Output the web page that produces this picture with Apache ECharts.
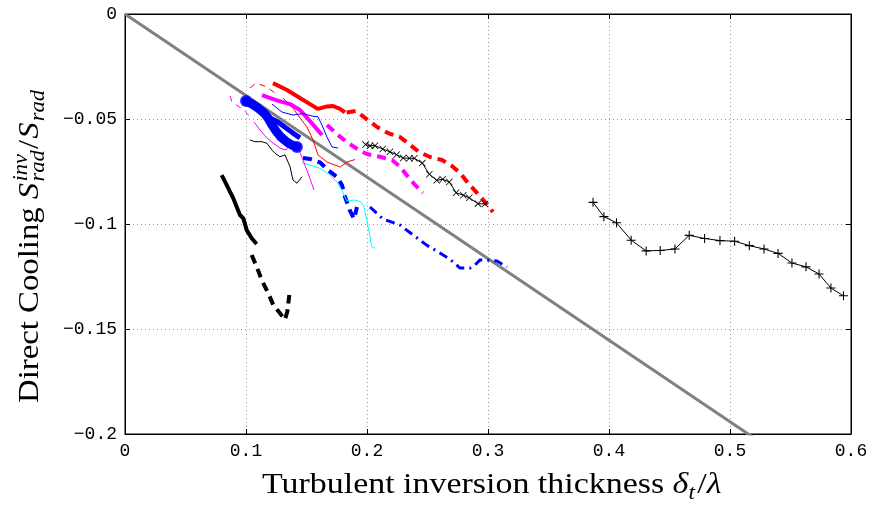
<!DOCTYPE html>
<html>
<head>
<meta charset="utf-8">
<script src="https://cdn.jsdelivr.net/npm/echarts@6/dist/echarts.min.js"></script>
<style>
  html, body { margin: 0; padding: 0; background: #fff; }
  #chart { width: 871px; height: 506px; }
</style>
</head>
<body>
<div id="chart"></div>
<script>
// axis ticks
var xTicks = [0, 0.1, 0.2, 0.3, 0.4, 0.5, 0.6];
var yTicks = [0, -0.05, -0.1, -0.15, -0.2];

// reference line (gray)
var refLine = [[0, 0], [0.6, -0.2330]];

// black with + markers
var blackPlus = [[0.3868,-0.0897],[0.3958,-0.0965],[0.4062,-0.0994],[0.4183,-0.1077],[0.4307,-0.1128],
  [0.4423,-0.1126],[0.4545,-0.1119],[0.4663,-0.1054],[0.4790,-0.1069],[0.4917,-0.1079],[0.5038,-0.1082],
  [0.5160,-0.1103],[0.5281,-0.1119],[0.5397,-0.1140],[0.5512,-0.1186],[0.5628,-0.1204],[0.5736,-0.1238],
  [0.5834,-0.1305],[0.5938,-0.1342]];

// black with x markers
var blackCross = [[0.1989,-0.0622],[0.2025,-0.0627],[0.2066,-0.0627],[0.2130,-0.0643],[0.2190,-0.0656],
  [0.2245,-0.0670],[0.2300,-0.0686],[0.2350,-0.0687],[0.2391,-0.0687],[0.2457,-0.0710],[0.2515,-0.0763],
  [0.2576,-0.0792],[0.2626,-0.0787],[0.2680,-0.0800],[0.2736,-0.0851],[0.2796,-0.0863],[0.2845,-0.0875],
  [0.2917,-0.0903],[0.2975,-0.0905]];

var redThick = [[0.1223,-0.0329],[0.1339,-0.0362],[0.1446,-0.0400],[0.1529,-0.0429],[0.1595,-0.0452],
  [0.1669,-0.0440],[0.1719,-0.0438],[0.1777,-0.0452],[0.1818,-0.0469]];
var redDash = [[0.1832,-0.0469],[0.1909,-0.0462],[0.2000,-0.0502],[0.2083,-0.0538],[0.2174,-0.0567],
  [0.2273,-0.0586],[0.2347,-0.0619],[0.2430,-0.0657],[0.2521,-0.0681],[0.2620,-0.0695],[0.2702,-0.0724],
  [0.2769,-0.0757],[0.2835,-0.0805],[0.2909,-0.0852],[0.2975,-0.0895],[0.3041,-0.0943]];

var magentaThick = [[0.1132,-0.0386],[0.1248,-0.0410],[0.1364,-0.0429],[0.1446,-0.0457],[0.1529,-0.0510],
  [0.1628,-0.0576]];
var magentaDash = [[0.1669,-0.0529],[0.1760,-0.0576],[0.1843,-0.0614],[0.1942,-0.0651],[0.2000,-0.0667],
  [0.2107,-0.0680],[0.2207,-0.0695],[0.2273,-0.0727],[0.2339,-0.0775],[0.2397,-0.0814],[0.2463,-0.0852]];

var blueDash = [[0.1471,-0.0686],[0.1529,-0.0690],[0.1612,-0.0707],[0.1678,-0.0743],[0.1752,-0.0776],
  [0.1793,-0.0814],[0.1818,-0.0871],[0.1860,-0.0938],[0.1893,-0.0976],[0.1917,-0.0919]];
var blueDashDot = [[0.2025,-0.0919],[0.2132,-0.0976],[0.2273,-0.1005],[0.2380,-0.1052],[0.2496,-0.1102],
  [0.2587,-0.1132],[0.2686,-0.1168],[0.2769,-0.1210],[0.2851,-0.1210],[0.2893,-0.1195],[0.2934,-0.1171],
  [0.2992,-0.1171],[0.3074,-0.1176],[0.3157,-0.1205]];

var cyanThin = [[0.1460,-0.0708],[0.1529,-0.0719],[0.1612,-0.0735],[0.1694,-0.0767],[0.1750,-0.0799],
  [0.1791,-0.0838],[0.1832,-0.0889],[0.1901,-0.0886],[0.1948,-0.0894],[0.1975,-0.0918],[0.1998,-0.0981],
  [0.2019,-0.1044],[0.2039,-0.1108],[0.2066,-0.1116]];

var blackThick = [[0.0799,-0.0767],[0.0840,-0.0814],[0.0895,-0.0878],[0.0950,-0.0957],[0.0978,-0.0973],
  [0.1006,-0.1029],[0.1047,-0.1068],[0.1088,-0.1095]];
var blackDash = [[0.1047,-0.1148],[0.1088,-0.1203],[0.1130,-0.1267],[0.1184,-0.1330],[0.1226,-0.1386],
  [0.1281,-0.1425],[0.1322,-0.1456],[0.1341,-0.1418],[0.1358,-0.1338]];

var blueFat = [[0.1000,-0.0414],[0.1050,-0.0429],[0.1099,-0.0448],[0.1149,-0.0471],[0.1182,-0.0495],
  [0.1215,-0.0529],[0.1248,-0.0557],[0.1289,-0.0586],[0.1339,-0.0610],[0.1380,-0.0624],[0.1421,-0.0633]];
var blueBranch = [[0.1198,-0.0495],[0.1264,-0.0514],[0.1331,-0.0543],[0.1388,-0.0567],[0.1446,-0.0590]];
var blueThin = [[0.1215,-0.0429],[0.1298,-0.0467],[0.1388,-0.0481],[0.1471,-0.0474],[0.1545,-0.0486],
  [0.1595,-0.0490],[0.1628,-0.0529],[0.1669,-0.0586],[0.1711,-0.0633],[0.1760,-0.0638]];

var redThinDash = [[0.1033,-0.0352],[0.1074,-0.0333],[0.1132,-0.0338],[0.1182,-0.0352],[0.1240,-0.0376]];
var redThin = [[0.1306,-0.0400],[0.1388,-0.0448],[0.1446,-0.0495],[0.1504,-0.0538],[0.1554,-0.0600],
  [0.1595,-0.0671],[0.1669,-0.0705],[0.1736,-0.0719],[0.1777,-0.0729],[0.1835,-0.0705],[0.1901,-0.0693]];

var magentaThinDash = [[0.0868,-0.0390],[0.0884,-0.0419],[0.0934,-0.0438],[0.0983,-0.0457],[0.1033,-0.0490]];
var magentaThin = [[0.1066,-0.0514],[0.1116,-0.0552],[0.1165,-0.0586],[0.1223,-0.0614],[0.1281,-0.0638],
  [0.1331,-0.0648],[0.1364,-0.0619],[0.1397,-0.0614],[0.1430,-0.0638],[0.1471,-0.0695],[0.1512,-0.0757],
  [0.1562,-0.0838]];

var blackThin = [[0.1033,-0.0600],[0.1074,-0.0608],[0.1132,-0.0608],[0.1174,-0.0616],[0.1215,-0.0648],
  [0.1240,-0.0663],[0.1281,-0.0680],[0.1322,-0.0671],[0.1364,-0.0727],[0.1388,-0.0790],[0.1421,-0.0806],
  [0.1463,-0.0775]];

var plusSym = 'path://M4.4,0H5.6V10H4.4Z M0,4.4H10V5.6H0Z';
var crossSym = 'path://M0,0.8L0.8,0L10,9.2L9.2,10Z M9.2,0L10,0.8L0.8,10L0,9.2Z';

var monoFont = 'Liberation Mono';
var serif = 'Liberation Serif';

function tickFmt(v) {
  var s = String(parseFloat(v.toFixed(3)));
  return s.replace('-', '\u2212');
}

function line(data, color, width, type, extra) {
  var s = {
    type: 'line', data: data, symbol: 'none', smooth: false,
    lineStyle: { color: color, width: width, type: type || 'solid', cap: 'butt' },
    itemStyle: { color: color },
    z: 3
  };
  if (extra) {
    for (var k in extra) s[k] = extra[k];
  }
  return s;
}

// measure pieces to lay out math-like titles
var ctx = document.createElement('canvas').getContext('2d');
function textW(t, f) { ctx.font = f; return ctx.measureText(t).width; }
function layout(parts) {
  var x = 0, out = [];
  parts.forEach(function (p) {
    var w = textW(p.text, p.font);
    var size = parseFloat(p.font.match(/(\d+)px/)[1]);
    out.push({
      type: 'text', x: x, y: (p.dy || 0) - 0.3 * size,
      style: { text: p.text, font: p.font, fill: '#000', verticalAlign: 'middle', align: 'left' }
    });
    x += (p.adv !== undefined) ? p.adv : w + (p.gap || 0);
  });
  return out;
}

var big = '29px ' + serif;
var bigIt = 'italic 29px ' + serif;
var smallIt = 'italic 20px ' + serif;

var yTitle = layout([
  { text: 'Direct Cooling ', font: big },
  { text: 'S', font: bigIt, gap: 1 },
  { text: 'inv', font: smallIt, dy: -11, adv: 0 },
  { text: 'rad', font: smallIt, dy: 6, adv: Math.max(textW('inv', smallIt), textW('rad', smallIt)) + 1 },
  { text: '/', font: big, gap: 1 },
  { text: 'S', font: bigIt, gap: 1 },
  { text: 'rad', font: smallIt, dy: 6 }
]);

var xTitle = layout([
  { text: 'Turbulent inversion thickness ', font: big },
  { text: '\u03b4', font: bigIt },
  { text: 't', font: smallIt, dy: 6, gap: 2 },
  { text: '/', font: big },
  { text: '\u03bb', font: bigIt }
]);

var chart = echarts.init(document.getElementById('chart'));

var axisLineStyle = { show: true, onZero: false, lineStyle: { color: '#000', width: 1 } };
var tickStyle = { show: true, inside: true, length: 5, lineStyle: { color: '#000' } };
var gridDots = { show: true, lineStyle: { color: '#9a9a9a', width: 1, type: [1, 3] } };

var option = {
  animation: false,
  backgroundColor: '#fff',
  grid: { left: 125, right: 20, top: 14, bottom: 72, show: true, borderColor: '#000', borderWidth: 1,
          backgroundColor: 'transparent' },
  xAxis: [{
    type: 'value', min: xTicks[0], max: xTicks[xTicks.length - 1], interval: 0.1, position: 'bottom',
    axisLine: axisLineStyle, axisTick: tickStyle,
    axisLabel: { color: '#000', fontFamily: monoFont, fontSize: 18, margin: 8, formatter: tickFmt },
    splitLine: gridDots
  }, {
    type: 'value', min: xTicks[0], max: xTicks[xTicks.length - 1], interval: 0.1, position: 'top',
    axisLine: axisLineStyle, axisTick: tickStyle, axisLabel: { show: false }, splitLine: { show: false }
  }],
  yAxis: [{
    type: 'value', min: yTicks[yTicks.length - 1], max: yTicks[0], interval: 0.05, position: 'left',
    axisLine: axisLineStyle, axisTick: tickStyle,
    axisLabel: { color: '#000', fontFamily: monoFont, fontSize: 18, margin: 8, formatter: tickFmt },
    splitLine: gridDots
  }, {
    type: 'value', min: yTicks[yTicks.length - 1], max: yTicks[0], interval: 0.05, position: 'right',
    axisLine: axisLineStyle, axisTick: tickStyle, axisLabel: { show: false }, splitLine: { show: false }
  }],
  graphic: [
    { type: 'group', x: 39, y: 403, rotation: Math.PI / 2, scaleX: 1.13, children: yTitle },
    { type: 'group', x: 262, y: 494, scaleX: 1.17, children: xTitle }
  ],
  series: [
    line(refLine, '#808080', 3, 'solid', { clip: true, z: 2 }),
    line(blackPlus, '#000', 1, 'solid', { symbol: plusSym, symbolSize: 9, showSymbol: true }),
    line(blackCross, '#000', 1, 'solid', { symbol: crossSym, symbolSize: 7, showSymbol: true }),
    line(redThick, '#ff0000', 4),
    line(redDash, '#ff0000', 4, [9, 6]),
    line(magentaThick, '#ff00ff', 4),
    line(magentaDash, '#ff00ff', 4, [9, 6]),
    line(blueDash, '#0000ff', 4, [9, 6]),
    line(blueDashDot, '#0000ff', 3, [9, 5, 2, 5]),
    line(cyanThin, '#00ffff', 1),
    line(blackThick, '#000', 4),
    line(blackDash, '#000', 4, [9, 6]),
    line(redThinDash, '#ff0000', 1, [6, 5]),
    line(redThin, '#ff0000', 1),
    line(magentaThinDash, '#ff00ff', 1, [6, 5]),
    line(magentaThin, '#ff00ff', 1),
    line(blackThin, '#000', 1),
    line(blueThin, '#0000ff', 1),
    line(blueBranch, '#0000ff', 5),
    {
      type: 'line', data: blueFat, symbol: 'none', z: 4,
      lineStyle: { color: '#0000ff', width: 9, cap: 'round', join: 'round' }
    },
    {
      type: 'scatter', data: [blueFat[0], blueFat[blueFat.length - 1]], symbol: 'circle', symbolSize: 12,
      itemStyle: { color: '#0000ff' }, z: 4
    }
  ]
};

chart.setOption(option);
</script>
</body>
</html>
